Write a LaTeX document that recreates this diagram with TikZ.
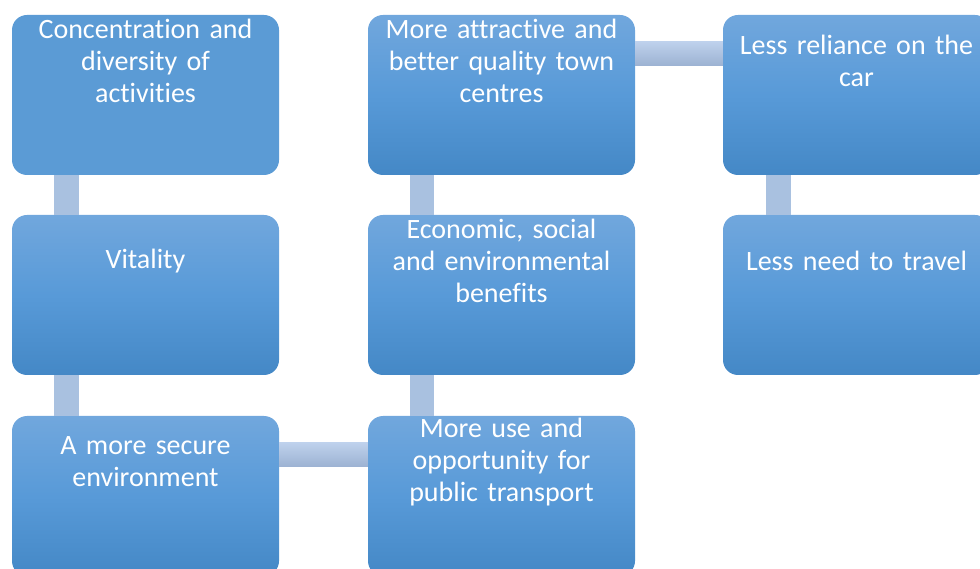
\documentclass[tikz,border=0pt]{standalone}
\usepackage{fontspec}
\setmainfont{Carlito}[Ligatures=NoCommon]
\definecolor{boxtop}{RGB}{113,167,221}
\definecolor{boxmid}{RGB}{88,154,216}
\definecolor{boxbot}{RGB}{68,136,198}
\definecolor{boxflat}{RGB}{91,155,213}
\definecolor{linktop}{RGB}{190,209,236}
\definecolor{linkbot}{RGB}{156,178,210}
\definecolor{linkflat}{RGB}{169,193,224}
\tikzset{
	stage/.style={rectangle, rounded corners=15pt, minimum width=267pt, minimum height=160pt,
		inner sep=0pt, top color=boxtop, bottom color=boxbot, middle color=boxmid},
	stagetxt/.style={align=center, text width=262pt, text=white,
		font=\fontsize{28}{32}\selectfont},
	vlink/.style={fill=linkflat},
	hlink/.style={top color=linktop, bottom color=linkbot}
}
\begin{document}
\begin{tikzpicture}[x=1pt,y=1pt]
	\useasboundingbox (0,0) rectangle (980,568);
	\clip (0,0) rectangle (980,568);
	\node[stage, top color=boxflat, bottom color=boxflat, middle color=boxflat] (b1) at (145.5,473) {};
	\node[stage] (b2) at (145.5,273) {};
	\node[stage] (b3) at (145.5,72) {};
	\node[stage] (b4) at (501.5,72) {};
	\node[stage] (b5) at (501.5,273) {};
	\node[stage] (b6) at (501.5,473) {};
	\node[stage] (b7) at (856.5,473) {};
	\node[stage] (b8) at (856.5,273) {};
	% connecting bars
	\fill[vlink] ([xshift=42]b1.south west) rectangle ([xshift=67]b2.north west);
	\fill[vlink] ([xshift=42]b2.south west) rectangle ([xshift=67]b3.north west);
	\shade[hlink] ([yshift=-27]b3.north east) rectangle ([yshift=-51]b4.north west);
	\fill[vlink] ([xshift=42]b5.south west) rectangle ([xshift=66]b4.north west);
	\fill[vlink] ([xshift=42]b6.south west) rectangle ([xshift=66]b5.north west);
	\shade[hlink] ([yshift=-27]b6.north east) rectangle ([yshift=-51]b7.north west);
	\fill[vlink] ([xshift=43]b7.south west) rectangle ([xshift=68]b8.north west);
	% labels
	\node[stagetxt] (t1) at ([yshift=-46]b1.north) {Concentration and\\diversity of\\activities};
	\node[stagetxt] (t2) at ([yshift=-46]b2.north) {Vitality};
	\node[stagetxt] (t3) at ([yshift=-46]b3.north) {A more secure\\environment};
	\node[stagetxt] (t4) at ([yshift=-46]b4.north) {More use and\\opportunity for\\public transport};
	\node[stagetxt] (t5) at ([yshift=-46]b5.north) {Economic, social\\and environmental\\benefits};
	\node[stagetxt] (t6) at ([yshift=-46]b6.north) {More attractive and\\better quality town\\centres};
	\node[stagetxt] (t7) at ([yshift=-46]b7.north) {Less reliance on the\\car};
	\node[stagetxt] (t8) at ([yshift=-46]b8.north) {Less need to travel};
\end{tikzpicture}
\end{document}
